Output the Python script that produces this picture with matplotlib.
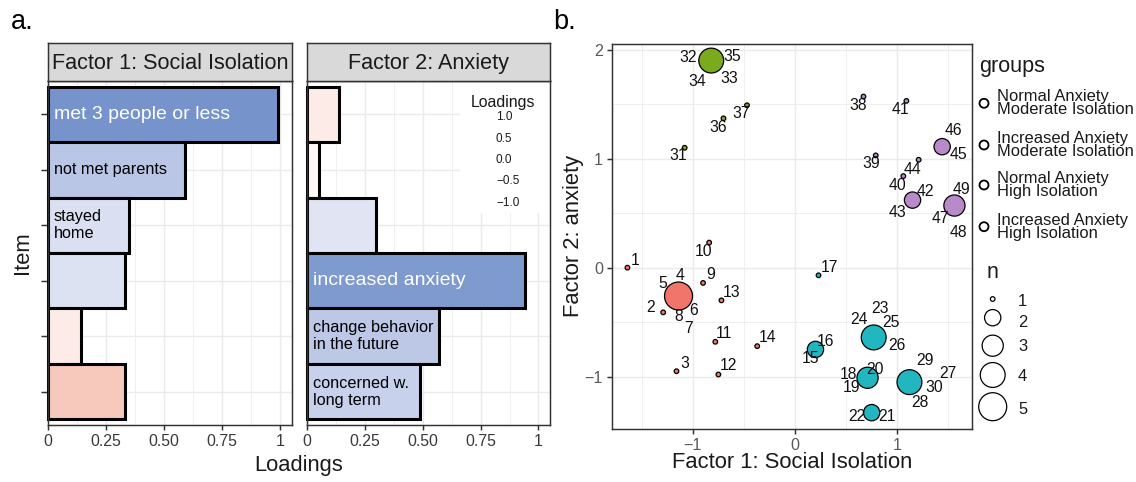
import numpy as np
import matplotlib
matplotlib.use("Agg")
import matplotlib.pyplot as plt
from matplotlib.colors import LinearSegmentedColormap, Normalize
from matplotlib.patches import Rectangle

plt.rcParams['font.family'] = ['Liberation Sans', 'DejaVu Sans']

# ---------------- Panel a data ----------------
items = ["met 3 people or less", "not met parents", "stayed\nhome",
         "increased anxiety", "change behavior\nin the future", "concerned w.\nlong term"]
loadings_f1 = [0.99, 0.59, 0.35, 0.33, -0.14, -0.33]
loadings_f2 = [-0.14, -0.05, 0.30, 0.94, 0.57, 0.49]
item_factor = [1, 1, 1, 2, 2, 2]
factor_titles = ["Factor 1: Social Isolation", "Factor 2: Anxiety"]
loading_ticks = [0, 0.25, 0.5, 0.75, 1]
loading_ticklabels = ["0", "0.25", "0.50", "0.75", "1"]
legend_loadings = ["1.0", "0.5", "0.0", "\u22120.5", "\u22121.0"]

# ---------------- Panel b data ----------------
point_ids = ["1", "2", "3", "4,5,6,7,8", "9", "10", "11", "12", "13", "14",
             "15,16", "17", "18,19,20", "21,22", "23,24,25,26", "27,28,29,30",
             "31", "32,33,34,35", "36", "37",
             "38", "39", "40", "41", "42,43", "44", "45,46", "47,48,49"]
point_x = [-1.64, -1.29, -1.16, -1.14, -0.90, -0.84, -0.78, -0.75, -0.72, -0.37,
           0.20, 0.23, 0.71, 0.75, 0.77, 1.12,
           -1.08, -0.82, -0.70, -0.47,
           0.67, 0.79, 1.06, 1.09, 1.15, 1.21, 1.44, 1.56]
point_y = [0.00, -0.41, -0.95, -0.26, -0.14, 0.23, -0.68, -0.98, -0.30, -0.72,
           -0.75, -0.07, -1.01, -1.33, -0.64, -1.05,
           1.10, 1.90, 1.37, 1.49,
           1.57, 1.03, 0.84, 1.53, 0.62, 0.99, 1.11, 0.57]
point_group = [0] * 10 + [2] * 6 + [1] * 4 + [3] * 8
group_names = ["Normal Anxiety\nModerate Isolation", "Increased Anxiety\nModerate Isolation",
               "Normal Anxiety\nHigh Isolation", "Increased Anxiety\nHigh Isolation"]
n_levels = [1, 2, 3, 4, 5]

# ---------------- styling / layout ----------------
group_colors = ["#F2756B", "#7AAA1E", "#22B6C0", "#B98AC9"]
# label offsets in pixels (right, down) from the point centre
label_off = {
    "1": (7.6, -8.4), "2": (-12.3, -5.4), "3": (8.4, -8.3), "4": (1.7, -21.3), "5": (-15.7, -13),
    "6": (15, 13.7), "7": (9.7, 31.4), "8": (0, 19.4), "9": (8, -9), "10": (-5.3, 8),
    "11": (8.7, -9.3), "12": (9.7, -9.3), "13": (9.7, -9), "14": (10.6, -9.3),
    "15": (-4.7, 8.7), "16": (10.3, -9), "17": (11, -9), "18": (-18.7, -4.3), "19": (-16.3, 9),
    "20": (7.3, -9.3), "21": (15.7, 3.4), "22": (-14.3, 3.4), "23": (6.2, -29.5), "24": (-14.3, -18.4),
    "25": (17, -15.3), "26": (23.4, 7.3), "27": (38, -9), "28": (10.7, 20), "29": (15.7, -22.3),
    "30": (25, 4.4), "31": (-6, 6.7), "32": (-22.7, -4), "33": (18.3, 17.4), "34": (-14.4, 20.4),
    "35": (21, -5.3), "36": (-5.7, 8), "37": (-6.3, 7.6), "38": (-5.3, 8.3), "39": (-5, 7.6),
    "40": (-6.3, 8.3), "41": (-6, 8), "42": (13, -9.3), "43": (-14.7, 12), "44": (-6, 8.6),
    "45": (16, 7.3), "46": (11.6, -17.4), "47": (-14.3, 12), "48": (4, 26.4), "49": (7.4, -17),
}

cmap = LinearSegmentedColormap.from_list(
    "load", [(0.0, "#E46C55"), (0.335, "#F7C8BD"), (0.43, "#FDEBE7"), (0.5, "#FFFFFF"),
             (0.665, "#DDE2F2"), (0.795, "#BAC6E6"), (1.0, "#7593CA")])
norm = Normalize(-1, 1)

W, H = 1136, 482
PX2PT = 0.72
fig = plt.figure(figsize=(W / 100, H / 100), dpi=100)


def px_rect(x0, y0, x1, y1):
    return [x0 / W, 1 - y1 / H, (x1 - x0) / W, (y1 - y0) / H]


GRID = "#EBEBEB"
BORDER = "#333333"

ax1 = fig.add_axes(px_rect(48, 81, 292, 425))
ax2 = fig.add_axes(px_rect(307, 81, 550, 425))
st1 = fig.add_axes(px_rect(48, 43, 292, 81))
st2 = fig.add_axes(px_rect(307, 43, 550, 81))
axs = fig.add_axes(px_rect(612, 44, 972, 429))

pos = np.arange(len(items))[::-1] + 1
for k, (ax, st, L) in enumerate([(ax1, st1, loadings_f1), (ax2, st2, loadings_f2)]):
    L = np.array(L)
    ax.set_axisbelow(True)
    bars = ax.barh(pos, np.abs(L), height=1.0, color=cmap(norm(L)), edgecolor="black",
                   linewidth=2.2, zorder=2)
    for b in bars:
        b.set_clip_on(False)
    for i, name in enumerate(items):
        if item_factor[i] == k + 1:
            big = abs(L[i]) > 0.9
            ax.annotate(name, xy=(0, pos[i]), xytext=(4, 0), textcoords="offset points",
                        ha="left", va="center", fontsize=14 if big else 11.7,
                        color="white" if big else "black", zorder=3, linespacing=1.15)
    ax.set_xlim(0, 1.05)
    ax.set_ylim(0.4, 6.6)
    ax.set_xticks(loading_ticks)
    ax.set_xticklabels(loading_ticklabels)
    ax.set_xticks(np.arange(0.125, 1.05, 0.25), minor=True)
    ax.set_yticks(pos)
    ax.set_yticklabels([])
    ax.grid(which="major", color=GRID, lw=1.07)
    ax.grid(which="minor", axis="x", color=GRID, lw=0.55)
    ax.tick_params(axis="x", which="major", length=3.5, width=1.07, color=BORDER,
                   labelsize=11.4, labelcolor="#3a3a3a", pad=3)
    ax.tick_params(axis="x", which="minor", length=0)
    if k == 0:
        ax.tick_params(axis="y", length=5, width=1.07, color=BORDER)
    else:
        ax.tick_params(axis="y", length=0)
    for sp in ax.spines.values():
        sp.set_color(BORDER)
        sp.set_linewidth(1.07)
    st.set_facecolor("#D9D9D9")
    st.set_xticks([])
    st.set_yticks([])
    for sp in st.spines.values():
        sp.set_color(BORDER)
        sp.set_linewidth(1.07)
    st.text(0.5, 0.45, factor_titles[k], transform=st.transAxes, ha="center", va="center",
            fontsize=15.6, color="#1a1a1a")

# Loadings legend box inside panel 2 (white background)
ax2.add_patch(Rectangle(((460 - 307) / 243, (425 - 213) / 344), 1 - (460 - 307) / 243,
                        1 - (425 - 213) / 344, transform=ax2.transAxes,
                        facecolor="white", edgecolor="none", zorder=1))

# ---------------- scatter ----------------
axs.set_axisbelow(True)
n_pts = np.array([len(s.split(",")) for s in point_ids])


def size_pt2(n):
    r_px = 2.3 + 11.7 * np.sqrt((np.asarray(n) - 1) / 4.0)
    return (2 * r_px * PX2PT) ** 2


axs.scatter(point_x, point_y, s=size_pt2(n_pts),
            c=[group_colors[g] for g in point_group], edgecolors="black", linewidths=0.9,
            zorder=3)
for x, y, ids in zip(point_x, point_y, point_ids):
    for lab in ids.split(","):
        dx, dy = label_off[lab]
        axs.annotate(lab, xy=(x, y), xytext=(dx * PX2PT, -(dy + 5.3) * PX2PT),
                     textcoords="offset points", ha="center", va="baseline",
                     fontsize=11.3, color="#111111", zorder=4)

axs.set_xlim(-1.791, 1.732)
axs.set_ylim(-1.480, 2.052)
axs.set_xticks([-1, 0, 1])
axs.set_xticklabels(["\u22121", "0", "1"])
axs.set_yticks([-1, 0, 1, 2])
axs.set_yticklabels(["\u22121", "0", "1", "2"])
axs.set_xticks([-1.5, -0.5, 0.5, 1.5], minor=True)
axs.set_yticks([-0.5, 0.5, 1.5], minor=True)
axs.grid(which="major", color=GRID, lw=1.07)
axs.grid(which="minor", color=GRID, lw=0.55)
axs.tick_params(which="major", length=3.5, width=1.07, color=BORDER, labelsize=11.6,
                labelcolor="#5a5a5a", pad=3)
axs.tick_params(which="minor", length=0)
for sp in axs.spines.values():
    sp.set_color(BORDER)
    sp.set_linewidth(1.07)

# ---------------- overlay texts / legends ----------------
ov = fig.add_axes([0, 0, 1, 1], zorder=10)
ov.set_xlim(0, W)
ov.set_ylim(H, 0)
ov.axis("off")
ov.patch.set_alpha(0)

ov.text(11, 29, "a.", fontsize=19.5, ha="left", va="baseline")
ov.text(553, 29, "b.", fontsize=19.5, ha="left", va="baseline")
ov.text(299, 466, "Loadings", fontsize=15.8, ha="center", va="center", color="#1a1a1a")
ov.text(22, 253, "Item", fontsize=15.8, ha="center", va="center", rotation=90, color="#1a1a1a")
ov.text(792, 463, "Factor 1: Social Isolation", fontsize=15.8, ha="center", va="center",
        color="#1a1a1a")
ov.text(574, 236, "Factor 2: anxiety", fontsize=15.8, ha="center", va="center", rotation=90,
        color="#1a1a1a")

# Loadings colour legend (text only)
ov.text(503, 102, "Loadings", fontsize=11.4, ha="center", va="center", color="#1a1a1a")
for lab, yy in zip(legend_loadings, [116.7, 139, 160, 181, 202.7]):
    ov.text(496, yy, lab, fontsize=8.5, ha="left", va="center", color="#1a1a1a")

# groups legend
ov.text(979, 66.7, "groups", fontsize=15.5, ha="left", va="center", color="#1a1a1a")
for name, yy in zip(group_names, [103.3, 145, 185, 226.7]):
    ov.scatter([984], [yy], s=(2 * 4.5 * PX2PT) ** 2, facecolors="none", edgecolors="black",
               linewidths=1.3)
    ov.text(997, yy, name, fontsize=11.9, ha="left", va="center", linespacing=0.85,
            color="#1a1a1a")

# n legend
ov.text(993, 273, "n", fontsize=15.5, ha="center", va="center", color="#1a1a1a")
for n, yc, yl in zip(n_levels, [299, 317.7, 345.7, 375, 406.7], [302, 322.7, 346.7, 376.7, 410]):
    ov.scatter([992.7], [yc], s=size_pt2(n), facecolors="none", edgecolors="black",
               linewidths=0.9)
    ov.text(1018, yl, str(n), fontsize=11.9, ha="left", va="center", color="#1a1a1a")

fig.savefig("out.png", dpi=100)
